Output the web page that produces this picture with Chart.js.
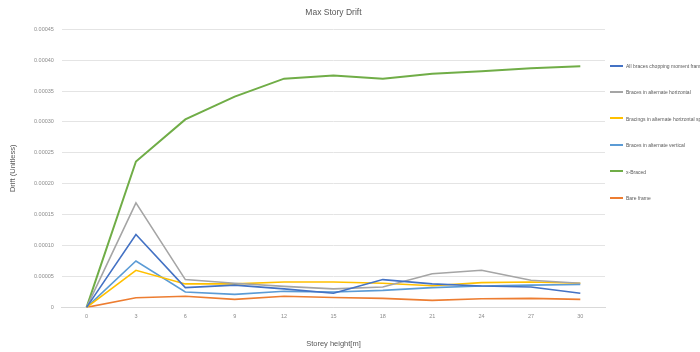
<!DOCTYPE html>
<html>
<head>
<meta charset="utf-8">
<script src="https://cdn.jsdelivr.net/npm/chart.js@4"></script>
<style>
  html, body { margin: 0; padding: 0; background: #ffffff; overflow: hidden; }
  #wrap { position: relative; width: 700px; height: 352px; }
  #legend { position: absolute; left: 610px; top: 0; width: 90px; height: 352px; overflow: hidden; }
  .item { position: absolute; left: 0; height: 8px; white-space: nowrap; font: 5px "Liberation Sans", Arial, sans-serif; color: #595959; }
  .item .mark { display: inline-block; width: 13px; height: 0; border-top: 2px solid; vertical-align: middle; margin-right: 3px; }
  .item span { vertical-align: middle; }
</style>
</head>
<body>
<div id="wrap">
  <canvas id="c" width="700" height="352"></canvas>
  <div id="legend"></div>
</div>
<script>
// Storey heights (m)
const storeyHeights = ['0', '3', '6', '9', '12', '15', '18', '21', '24', '27', '30'];

const seriesNames = [
  'All braces chopping moment frame',
  'Braces in alternate horizontal',
  'Bracings in alternate horizontal spaced',
  'Braces in alternate vertical',
  'x-Braced',
  'Bare frame'
];

const allBraces      = [0, 0.000118, 0.000032, 0.000036, 0.000030, 0.000023, 0.000045, 0.000038, 0.0000345, 0.000033, 0.000023];
const altHorizontal  = [0, 0.000169, 0.000045, 0.000039, 0.000034, 0.000030, 0.000033, 0.0000545, 0.000060, 0.000044, 0.000039];
const altHorizSpaced = [0, 0.000060, 0.000038, 0.000038, 0.000041, 0.000041, 0.000039, 0.000035, 0.000040, 0.000041, 0.000039];
const altVertical    = [0, 0.000075, 0.000025, 0.000021, 0.000026, 0.000025, 0.0000275, 0.000032, 0.0000345, 0.000036, 0.000037];
const xBraced        = [0, 0.000236, 0.000304, 0.000341, 0.000370, 0.000375, 0.000370, 0.000378, 0.000382, 0.000387, 0.000390];
const bareFrame      = [0, 0.0000157, 0.000018, 0.000013, 0.000018, 0.000016, 0.0000146, 0.0000113, 0.000014, 0.0000146, 0.000013];

const seriesValues = [allBraces, altHorizontal, altHorizSpaced, altVertical, xBraced, bareFrame];
const seriesColors = ['#4472C4', '#A5A5A5', '#FFC000', '#5B9BD5', '#70AD47', '#ED7D31'];

// Y axis ticks
const yMax = 0.00045;
const yStep = 0.00005;

const datasets = seriesNames.map((name, i) => ({
  label: name,
  data: seriesValues[i],
  borderColor: seriesColors[i],
  backgroundColor: seriesColors[i],
  borderWidth: i === 4 ? 2 : 1.6,
  pointRadius: 0,
  tension: 0,
  fill: false
}));

const tickFont = { family: '"Liberation Sans", Arial, sans-serif', size: 5.5 };

const chart = new Chart(document.getElementById('c'), {
  type: 'line',
  data: { labels: storeyHeights, datasets },
  options: {
    responsive: false,
    animation: false,
    layout: { padding: { left: 6, right: 95, top: 4, bottom: 2 } },
    plugins: {
      legend: { display: false },
      tooltip: { enabled: false },
      title: {
        display: true,
        text: 'Max Story Drift',
        fullSize: false,
        color: '#595959',
        font: { family: '"Liberation Sans", Arial, sans-serif', size: 8.5, weight: 'normal' },
        padding: { top: 4, bottom: 11 }
      }
    },
    scales: {
      x: {
        offset: true,
        grid: { display: false, drawTicks: false },
        border: { display: true, color: '#D9D9D9' },
        ticks: { color: '#8c8c8c', font: tickFont, padding: 6, maxRotation: 0 },
        title: {
          display: true,
          text: 'Storey height[m]',
          color: '#595959',
          font: { family: '"Liberation Sans", Arial, sans-serif', size: 7.5 },
          padding: { top: 13, bottom: 2 }
        }
      },
      y: {
        min: 0,
        max: yMax,
        grid: { color: '#E4E4E4', drawTicks: false },
        border: { display: false },
        ticks: {
          stepSize: yStep,
          color: '#8c8c8c',
          font: tickFont,
          padding: 8,
          callback: v => (Math.abs(v) < 1e-12 ? '0' : v.toFixed(5))
        },
        title: {
          display: true,
          text: 'Drift (Unitless)',
          color: '#595959',
          font: { family: '"Liberation Sans", Arial, sans-serif', size: 7.5 },
          padding: { top: 2, bottom: 9 }
        }
      }
    }
  }
});

// Legend on the right, one entry per dataset
const legend = document.getElementById('legend');
const legendTop = 66, legendGap = 26.4;
chart.data.datasets.forEach((ds, i) => {
  const row = document.createElement('div');
  row.className = 'item';
  row.style.top = (legendTop + i * legendGap - 4) + 'px';
  const mark = document.createElement('i');
  mark.className = 'mark';
  mark.style.borderTopColor = ds.borderColor;
  const txt = document.createElement('span');
  txt.textContent = ds.label;
  row.appendChild(mark);
  row.appendChild(txt);
  legend.appendChild(row);
});
</script>
</body>
</html>
